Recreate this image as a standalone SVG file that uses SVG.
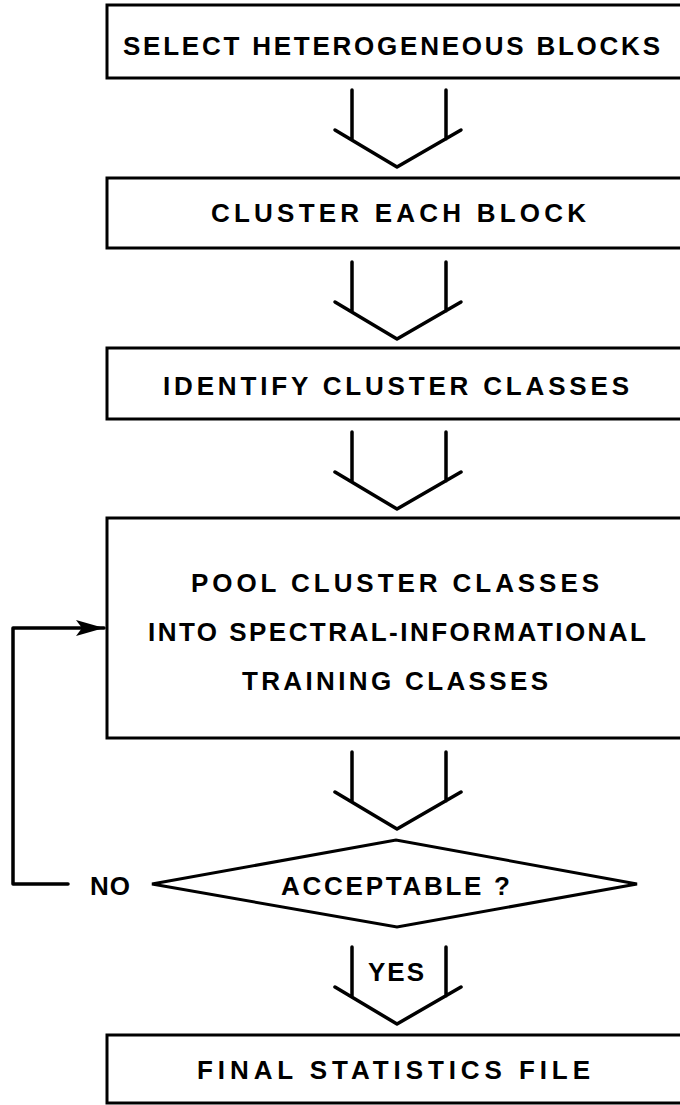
<svg xmlns="http://www.w3.org/2000/svg" width="680" height="1105" viewBox="0 0 680 1105">
<style>
.box{fill:none;stroke:#000;stroke-width:3}
.ln{fill:none;stroke:#000;stroke-width:3.5;stroke-linejoin:round;stroke-linecap:round}
.t{font-family:"Liberation Sans",Arial,sans-serif;font-weight:bold;font-size:26px;fill:#000}
</style>
<defs>
<marker id="ah" markerWidth="32" markerHeight="18" refX="30" refY="9" orient="auto" markerUnits="userSpaceOnUse" viewBox="0 0 32 18">
<path d="M2,1 L30,9 L2,17 L8,9 Z" fill="#000"/>
</marker>
</defs>
<rect width="680" height="1105" fill="#fff"/>
<g id="n1"><rect class="box" x="107" y="5" width="590" height="73"/><text class="t" x="123" y="55" textLength="537" lengthAdjust="spacing">SELECT  HETEROGENEOUS  BLOCKS</text></g>
<g id="n2"><rect class="box" x="107" y="178" width="590" height="70"/><text class="t" x="211" y="222" textLength="375" lengthAdjust="spacing">CLUSTER  EACH  BLOCK</text></g>
<g id="n3"><rect class="box" x="107" y="348" width="590" height="71"/><text class="t" x="163" y="395" textLength="466" lengthAdjust="spacing">IDENTIFY  CLUSTER  CLASSES</text></g>
<g id="n4"><rect class="box" x="107" y="518" width="590" height="220"/>
<text class="t" x="191" y="592" textLength="408" lengthAdjust="spacing">POOL  CLUSTER  CLASSES</text>
<text class="t" x="148" y="641" textLength="498" lengthAdjust="spacing">INTO  SPECTRAL-INFORMATIONAL</text>
<text class="t" x="242" y="690" textLength="306" lengthAdjust="spacing">TRAINING  CLASSES</text></g>
<g id="n5"><polygon class="box" points="152,884 396,840 637,884 397,927"/><text class="t" x="281" y="895" textLength="229" lengthAdjust="spacing">ACCEPTABLE  ?</text></g>
<g id="n6"><rect class="box" x="107" y="1035" width="590" height="68"/><text class="t" x="197" y="1079" textLength="393" lengthAdjust="spacing">FINAL  STATISTICS  FILE</text></g>
<g id="connectors">
<path class="ln" d="M352,90 V140 M446,90 V139 M335,130 L397,167 L461,130"/>
<path class="ln" d="M352,262 V312 M446,262 V311 M335,302 L397,339 L461,302"/>
<path class="ln" d="M352,432 V482 M446,432 V481 M335,472 L397,509 L461,472"/>
<path class="ln" d="M352,752 V802 M446,752 V801 M335,792 L397,829 L461,792"/>
<path class="ln" d="M352,947 V997 M446,947 V996 M335,987 L397,1024 L461,987"/>
<path class="ln" d="M68,884 H13 V628 H104" marker-end="url(#ah)"/>
<text class="t" x="90" y="895" textLength="40" lengthAdjust="spacing">NO</text>
<text class="t" x="368" y="981" textLength="56" lengthAdjust="spacing">YES</text>
</g>
</svg>
